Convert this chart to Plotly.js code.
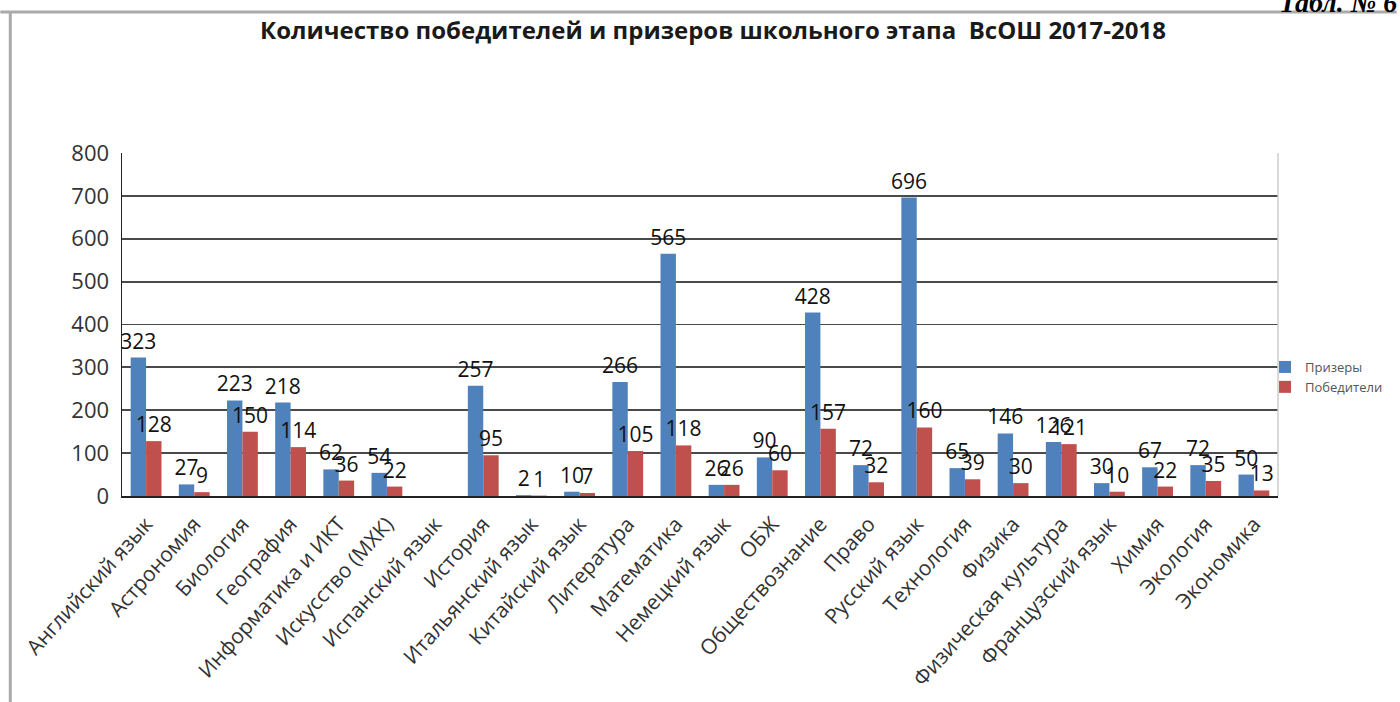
<!DOCTYPE html>
<html>
<head>
<meta charset="utf-8">
<script src="https://cdn.plot.ly/plotly-3.0.1.min.js"></script>
<style>html,body{margin:0;padding:0;background:#fff;}#chart{width:1400px;height:702px;}</style>
</head>
<body>
<div id="chart"></div>
<script>
const categories = ["Английский язык","Астрономия","Биология","География","Информатика и ИКТ","Искусство (МХК)","Испанский язык","История","Итальянский язык","Китайский язык","Литература","Математика","Немецкий язык","ОБЖ","Обществознание","Право","Русский язык","Технология","Физика","Физическая культура","Французский язык","Химия","Экология","Экономика"];
const prizers = [323,27,223,218,62,54,null,257,2,10,266,565,26,90,428,72,696,65,146,126,30,67,72,50];
const winners = [128,9,150,114,36,22,null,95,1,7,105,118,26,60,157,32,160,39,30,121,10,22,35,13];
const seriesNames = ["Призеры","Победители"];
const yTicks = [0,100,200,300,400,500,600,700,800];

const FONT = "Open Sans, Noto Sans, sans-serif";
const plotL = 122, plotR = 1281, plotT = 153, plotB = 496;
const pw = plotR - plotL, ph = plotB - plotT;
const px = x => (x - plotL) / pw;
const py = y => (plotB - y) / ph;

const mk = (vals, name, color) => ({
  type: 'bar', x: categories, y: vals, name: name,
  marker: {color: color},
  text: vals.map(v => v === null ? '' : String(v)),
  textposition: 'outside', constraintext: 'none', cliponaxis: false,
  textfont: {family: FONT, size: 21, color: '#111'},
  hoverinfo: 'x+y'
});

const data = [mk(prizers, seriesNames[0], '#4F81BD'), mk(winners, seriesNames[1], '#C0504D')];

const layout = {
  width: 1400, height: 702,
  margin: {l: plotL, r: 1400 - plotR, t: plotT, b: 702 - plotB, pad: 0},
  paper_bgcolor: '#fff', plot_bgcolor: '#fff',
  barmode: 'group', bargap: 0.36, bargroupgap: 0,
  showlegend: true,
  font: {family: FONT},
  title: {text: 'Количество победителей и призеров школьного этапа  ВсОШ 2017-2018',
          font: {family: FONT, size: 24, color: '#1a1a1a', weight: 'bold'},
          x: 713/1400, xanchor: 'center', y: 1 - 31/702, yanchor: 'middle'},
  xaxis: {type: 'category', tickangle: -48, showline: true, linecolor: '#222', linewidth: 1.5,
          ticks: '', showgrid: false, tickfont: {family: FONT, size: 21, color: '#333'},
          ticklabelstandoff: 6},
  yaxis: {range: [0, 800], tickvals: yTicks, showline: true, linecolor: '#222', linewidth: 1.5,
          showgrid: true, gridcolor: '#4a4a4a', gridwidth: 1.8, zeroline: false, ticks: '',
          tickfont: {family: FONT, size: 22, color: '#333'}, ticklabelstandoff: 7},
  legend: {x: px(1268), xanchor: 'left', y: py(377), yanchor: 'middle', bgcolor: 'rgba(0,0,0,0)',
           font: {family: FONT, size: 13, color: '#555'}, itemwidth: 30, tracegroupgap: 2},
  shapes: [
    {type: 'line', xref: 'paper', yref: 'paper', x0: px(0), x1: px(1400), y0: py(12), y1: py(12), line: {color: '#aaa', width: 3}},
    {type: 'line', xref: 'paper', yref: 'paper', x0: px(10), x1: px(10), y0: py(12), y1: py(702), line: {color: '#aaa', width: 3}},
    {type: 'line', xref: 'paper', yref: 'paper', x0: 1, x1: 1, y0: 0, y1: 1, line: {color: '#ccc', width: 1.5}}
  ],
  annotations: [
    {xref: 'paper', yref: 'paper', x: px(1402), y: py(2), xanchor: 'right', yanchor: 'middle',
     text: '<b><i>Табл. № 6</i></b>', showarrow: false,
     font: {family: 'Liberation Serif, serif', size: 28, color: '#000'}}
  ]
};

Plotly.newPlot('chart', data, layout, {displayModeBar: false, staticPlot: true});
</script>
</body>
</html>
